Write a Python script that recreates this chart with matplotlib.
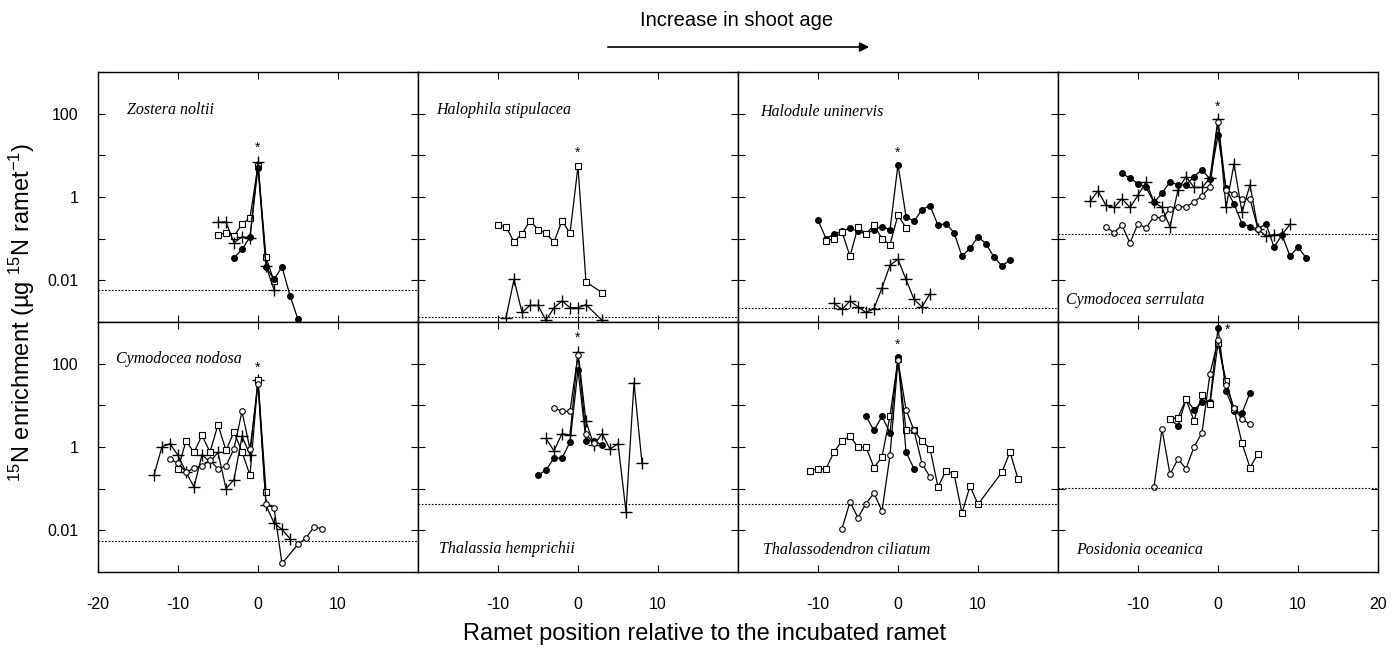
import matplotlib
matplotlib.use("Agg")
import matplotlib.pyplot as plt
import numpy as np

plt.rcParams['font.family'] = ['Liberation Sans', 'DejaVu Sans']
plt.rcParams['mathtext.default'] = 'regular'

# ---- data (ramet position, 15N enrichment) ----
# Zostera noltii
zos_sq_x = [-5, -4, -3, -2, -1, 0, 1, 2]
zos_sq_y = [0.12, 0.14, 0.115, 0.22, 0.32, 5.6, 0.036, 0.0095]
zos_pl_x = [-5, -4, -3, -2, -1, 0, 1, 2]
zos_pl_y = [0.25, 0.25, 0.08, 0.11, 0.105, 7.1, 0.022, 0.006]
zos_fc_x = [-3, -2, -1, 0, 1, 2, 3, 4, 5]
zos_fc_y = [0.035, 0.055, 0.11, 5.1, 0.021, 0.0105, 0.021, 0.0043, 0.00115]

# Halophila stipulacea
hal_sq_x = [-10, -9, -8, -7, -6, -5, -4, -3, -2, -1, 0, 1, 3]
hal_sq_y = [0.21, 0.195, 0.083, 0.13, 0.27, 0.165, 0.135, 0.083, 0.27, 0.135, 5.4, 0.0091, 0.0051]
hal_pl_x = [-9, -8, -7, -6, -5, -4, -3, -2, -1, 0, 1, 3]
hal_pl_y = [0.00126, 0.0105, 0.0017, 0.0025, 0.0025, 0.0011, 0.0022, 0.0032, 0.0022, 0.0022, 0.0026, 0.0011]

# Halodule uninervis
hdu_fc_x = [-10, -9, -8, -7, -6, -5, -4, -3, -2, -1, 0, 1, 2, 3, 4, 5, 6, 7, 8, 9, 10, 11, 12, 13, 14]
hdu_fc_y = [0.28, 0.10, 0.13, 0.15, 0.18, 0.15, 0.13, 0.165, 0.195, 0.165, 6.0, 0.34, 0.26, 0.5, 0.62,
            0.21, 0.23, 0.14, 0.038, 0.059, 0.11, 0.076, 0.036, 0.022, 0.031]
hdu_sq_x = [-9, -8, -7, -6, -5, -4, -3, -2, -1, 0, 1]
hdu_sq_y = [0.087, 0.10, 0.145, 0.038, 0.19, 0.13, 0.21, 0.10, 0.072, 0.37, 0.18]
hdu_pl_x = [-8, -7, -6, -5, -4, -3, -2, -1, 0, 1, 2, 3, 4]
hdu_pl_y = [0.0028, 0.002, 0.0032, 0.0023, 0.0017, 0.0021, 0.0066, 0.023, 0.032, 0.0105, 0.0035, 0.0023, 0.0048]

# Cymodocea serrulata
cse_pl_x = [-16, -15, -14, -13, -12, -11, -10, -9, -8, -7, -6, -5, -4, -3, -2, -1, 0, 1, 2, 3, 4, 5, 6, 7, 8, 9]
cse_pl_y = [0.78, 1.4, 0.63, 0.56, 0.91, 0.56, 1.1, 2.3, 0.76, 0.56, 0.19, 1.5, 3.1, 1.7, 1.7, 2.8, 76,
            0.56, 6.2, 0.43, 1.95, 0.17, 0.115, 0.123, 0.126, 0.22]
cse_fc_x = [-12, -11, -10, -9, -8, -7, -6, -5, -4, -3, -2, -1, 0, 1, 2, 3, 4, 5, 6, 7, 8, 9, 10, 11]
cse_fc_y = [3.7, 2.8, 2.1, 1.7, 0.74, 1.23, 2.3, 1.95, 1.95, 3.1, 4.5, 2.7, 30, 1.6, 0.68, 0.23, 0.195,
            0.17, 0.23, 0.063, 0.123, 0.038, 0.063, 0.035]
cse_oc_x = [-14, -13, -12, -11, -10, -9, -8, -7, -6, -5, -4, -3, -2, -1, 0, 1, 2, 3, 4, 5]
cse_oc_y = [0.19, 0.14, 0.21, 0.079, 0.23, 0.18, 0.34, 0.31, 0.51, 0.58, 0.58, 0.76, 1.07, 1.7, 63,
            1.5, 1.17, 0.89, 0.89, 0.17]

# Cymodocea nodosa
cno_pl_x = [-13, -12, -11, -10, -9, -8, -7, -6, -5, -4, -3, -2, -1, 0, 1, 2, 3, 4]
cno_pl_y = [0.21, 1.02, 1.2, 0.63, 0.25, 0.11, 0.65, 0.44, 0.74, 0.10, 0.165, 1.8, 0.65, 41, 0.04,
            0.015, 0.0105, 0.0063]
cno_sq_x = [-10, -9, -8, -7, -6, -5, -4, -3, -2, -1, 0, 1]
cno_sq_y = [0.3, 1.4, 0.74, 1.9, 0.76, 3.4, 0.83, 2.3, 0.76, 0.21, 41, 0.085]
cno_oc_x = [-11, -10, -9, -8, -7, -6, -5, -4, -3, -2, -1, 0, 1, 2, 3, 5, 6, 7, 8]
cno_oc_y = [0.51, 0.41, 0.25, 0.31, 0.35, 0.48, 0.3, 0.35, 0.91, 7.2, 0.89, 32, 0.042, 0.035, 0.0016,
            0.0046, 0.0066, 0.012, 0.011]

# Thalassia hemprichii
tha_pl_x = [-4, -3, -2, -1, 0, 1, 2, 3, 4, 5, 6, 7, 8]
tha_pl_y = [1.6, 0.81, 2.1, 1.9, 195, 4.1, 1.1, 2.1, 0.89, 1.2, 0.028, 35, 0.41]
tha_fc_x = [-5, -4, -3, -2, -1, 0, 1, 2, 3]
tha_fc_y = [0.21, 0.28, 0.54, 0.54, 1.3, 72, 1.4, 1.4, 1.12]
tha_oc_x = [-3, -2, -1, 0, 1, 2]
tha_oc_y = [8.7, 7.2, 7.2, 162, 2.0, 1.23]

# Thalassodendron ciliatum
thd_sq_x = [-11, -10, -9, -8, -7, -6, -5, -4, -3, -2, -1, 0, 1, 2, 3, 4, 5, 6, 7, 8, 9, 10, 13, 14, 15]
thd_sq_y = [0.27, 0.3, 0.3, 0.76, 1.4, 1.8, 1.0, 1.0, 0.32, 0.58, 5.6, 126, 2.5, 2.5, 1.4, 0.91, 0.11,
            0.27, 0.23, 0.026, 0.115, 0.042, 0.25, 0.76, 0.17]
thd_fc_x = [-4, -3, -2, -1, 0, 1, 2]
thd_fc_y = [5.4, 2.5, 5.4, 2.2, 145, 0.76, 0.3]
thd_oc_x = [-7, -6, -5, -4, -3, -2, -1, 0, 1, 2, 3, 4]
thd_oc_y = [0.011, 0.048, 0.02, 0.044, 0.078, 0.029, 0.63, 120, 7.9, 2.5, 0.4, 0.19]

# Posidonia oceanica
pos_fc_x = [-6, -5, -4, -3, -2, -1, 0, 1, 2, 3, 4]
pos_fc_y = [4.7, 3.2, 14, 7.9, 11.7, 12.3, 720, 22, 7.4, 6.5, 20]
pos_sq_x = [-6, -5, -4, -3, -2, -1, 0, 1, 2, 3, 4, 5]
pos_sq_y = [4.7, 5.1, 14, 4.3, 17.8, 10.7, 316, 39, 8.1, 1.23, 0.32, 0.69]
pos_oc_x = [-8, -7, -6, -5, -4, -3, -2, -1, 0, 1, 2, 3, 4]
pos_oc_y = [0.11, 2.7, 0.22, 0.52, 0.3, 1.0, 2.2, 58, 360, 30, 8.5, 4.7, 3.5]

species = ["Zostera noltii", "Halophila stipulacea", "Halodule uninervis", "Cymodocea serrulata",
           "Cymodocea nodosa", "Thalassia hemprichii", "Thalassodendron ciliatum", "Posidonia oceanica"]
detection_limit = [0.006, 0.0013, 0.0022, 0.13, 0.0055, 0.042, 0.042, 0.105]
star_x = [0, 0, 0, 0, 0, 0, 0, 1.2]
star_y = [15, 11.7, 11.5, 148, 80, 410, 280, 660]
label_pos = [(0.09, 0.85), (0.057, 0.85), (0.07, 0.84), (0.026, 0.088),
             (0.057, 0.853), (0.065, 0.093), (0.078, 0.09), (0.057, 0.087)]

panel_series = [
    [("sq", zos_sq_x, zos_sq_y), ("pl", zos_pl_x, zos_pl_y), ("fc", zos_fc_x, zos_fc_y)],
    [("sq", hal_sq_x, hal_sq_y), ("pl", hal_pl_x, hal_pl_y)],
    [("fc", hdu_fc_x, hdu_fc_y), ("sq", hdu_sq_x, hdu_sq_y), ("pl", hdu_pl_x, hdu_pl_y)],
    [("pl", cse_pl_x, cse_pl_y), ("fc", cse_fc_x, cse_fc_y), ("oc", cse_oc_x, cse_oc_y)],
    [("pl", cno_pl_x, cno_pl_y), ("sq", cno_sq_x, cno_sq_y), ("oc", cno_oc_x, cno_oc_y)],
    [("pl", tha_pl_x, tha_pl_y), ("fc", tha_fc_x, tha_fc_y), ("oc", tha_oc_x, tha_oc_y)],
    [("sq", thd_sq_x, thd_sq_y), ("fc", thd_fc_x, thd_fc_y), ("oc", thd_oc_x, thd_oc_y)],
    [("fc", pos_fc_x, pos_fc_y), ("sq", pos_sq_x, pos_sq_y), ("oc", pos_oc_x, pos_oc_y)],
]

styles = {
    "fc": dict(marker="o", ms=4, mfc="black", mec="black"),
    "oc": dict(marker="o", ms=4, mfc="white", mec="black", mew=0.8),
    "sq": dict(marker="s", ms=4, mfc="white", mec="black", mew=0.8),
    "pl": dict(marker="+", ms=9, mec="black", mew=1.0),
}

W, H = 1392, 652
fig = plt.figure(figsize=(W / 100, H / 100), dpi=100)

left, pw = 98 / W, 320 / W
row_bottom = [1 - 322 / H, 1 - 572 / H]
ph = 250 / H

yticks = [1e-3, 1e-2, 1e-1, 1, 10, 100, 1000]
ylabels = {1e-2: "0.01", 1: "1", 100: "100"}

for i in range(8):
    r, c = divmod(i, 4)
    ax = fig.add_axes([left + c * pw, row_bottom[r], pw, ph])
    ax.set_yscale("log")
    ax.set_xlim(-20, 20)
    ax.set_ylim(1e-3, 1e3)

    for kind, xs, ys in panel_series[i]:
        ax.plot(xs, ys, color="black", lw=0.9, **styles[kind])

    ax.axhline(detection_limit[i], color="black", lw=0.8, ls=(0, (1.5, 1.5)))
    ax.text(star_x[i], star_y[i], "*", ha="center", va="center", fontsize=10)
    ax.text(label_pos[i][0], label_pos[i][1], species[i], transform=ax.transAxes,
            family="Liberation Serif", style="italic", fontsize=11.5, va="center", ha="left")

    ax.set_yticks(yticks)
    ax.yaxis.set_minor_locator(matplotlib.ticker.NullLocator())
    if c == 0:
        ax.set_yticklabels([ylabels.get(t, "") for t in yticks])
    else:
        ax.set_yticklabels([])
    ax.set_xticks([-10, 0, 10])
    if r == 1:
        if c == 0:
            ax.set_xticks([-20, -10, 0, 10])
        elif c == 3:
            ax.set_xticks([-10, 0, 10, 20])
        ax.set_xticklabels([str(t) for t in ax.get_xticks().astype(int)])
    else:
        ax.set_xticklabels([])
    ax.tick_params(direction="in", top=True, right=True, length=5, width=0.8, labelsize=11.5)
    ax.tick_params(axis="x", pad=18)
    ax.tick_params(axis="y", pad=14)
    for s in ax.spines.values():
        s.set_linewidth(1.0)

fig.text(22 / W, 1 - 312 / H, r"$^{15}$N enrichment (µg $^{15}$N ramet$^{-1}$)",
         rotation=90, ha="center", va="center", fontsize=17)
fig.text(705 / W, 1 - 634 / H, "Ramet position relative to the incubated ramet",
         ha="center", va="center", fontsize=17)

fig.text(737 / W, 1 - 21 / H, "Increase in shoot age", ha="center", va="center", fontsize=14.5)
fig.add_artist(matplotlib.patches.FancyArrowPatch((605 / W, 1 - 47 / H), (872 / W, 1 - 47 / H),
                                                  transform=fig.transFigure, arrowstyle="-|>",
                                                  mutation_scale=14, color="black", lw=1.2))

fig.savefig("out.png", dpi=100)
